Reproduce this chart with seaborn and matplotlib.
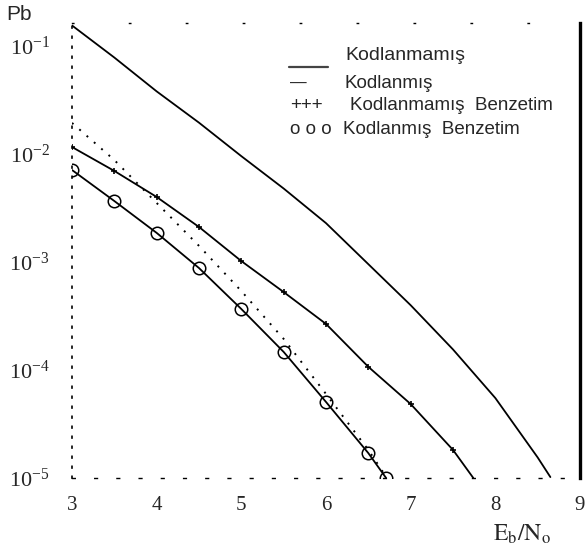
import numpy as np
import pandas as pd
import matplotlib
matplotlib.use('AGG')
import matplotlib.pyplot as plt
import seaborn as sns

# Eb/No (dB) and bit error probabilities
x_uncoded = [3, 3.5, 4, 4.5, 5, 5.5, 6, 6.5, 7, 7.5, 8, 8.5, 8.65]
pb_uncoded = [0.155, 0.0782, 0.038, 0.0195, 0.00955, 0.00479, 0.00229,
              9.55e-4, 3.98e-4, 1.55e-4, 5.5e-5, 1.55e-5, 1.02e-5]

x_coded = [3, 3.5, 4, 4.5, 5, 5.5, 6, 6.5, 7, 7.5, 7.74]
pb_coded = [0.0116, 0.00697, 0.0040, 0.00211, 0.00102, 5.27e-4, 2.67e-4,
            1.07e-4, 4.84e-5, 1.82e-5, 1.0e-5]

x_sim_dotted = [3, 3.5, 4, 4.5, 5, 5.5, 6, 6.5, 6.72]
pb_sim_dotted = [0.0194, 0.00879, 0.00352, 0.00141, 5.38e-4, 1.94e-4,
                 6.0e-5, 1.82e-5, 1.0e-5]

x_sim_circle = [3, 3.5, 4, 4.5, 5, 5.5, 6, 6.5, 6.71]
pb_sim_circle = [0.00711, 0.00367, 0.00186, 8.79e-4, 3.67e-4, 1.47e-4,
                 5.06e-5, 1.70e-5, 1.0e-5]

xticks = [3, 4, 5, 6, 7, 8, 9]
yticks = [1e-5, 1e-4, 1e-3, 1e-2, 1e-1]
ytick_labels = [r'$\mathdefault{10^{-5}}$', r'$\mathdefault{10^{-4}}$', r'$\mathdefault{10^{-3}}$',
                r'$\mathdefault{10^{-2}}$', r'$\mathdefault{10^{-1}}$']

legend_labels = ['Kodlanmamış', 'Kodlanmış', 'Kodlanmamış  Benzetim', 'Kodlanmış  Benzetim']
legend_keys = ['\u2014', '+++', 'o o o']

sns.set_theme(style='white')
plt.rcParams['font.family'] = ['Liberation Sans', 'DejaVu Sans']
plt.rcParams['mathtext.fontset'] = 'stix'

W, H = 587, 548
fig = plt.figure(figsize=(W / 100, H / 100), dpi=100)
ax = fig.add_axes([72 / W, 1 - 478 / H, (580 - 72) / W, (478 - 23) / H])

df_u = pd.DataFrame({'x': x_uncoded, 'pb': pb_uncoded})
df_c = pd.DataFrame({'x': x_coded, 'pb': pb_coded})
df_d = pd.DataFrame({'x': x_sim_dotted, 'pb': pb_sim_dotted})
df_o = pd.DataFrame({'x': x_sim_circle, 'pb': pb_sim_circle})

sns.lineplot(data=df_u, x='x', y='pb', ax=ax, color='black', lw=1.3)
# small tick-like markers on the coded curve (none at the clipped end point)
sns.lineplot(data=df_c, x='x', y='pb', ax=ax, color='black', lw=1.3,
             marker='+', markersize=4.5, markeredgewidth=1.2, markeredgecolor='black',
             markevery=list(range(len(x_coded) - 1)))
sns.lineplot(data=df_d, x='x', y='pb', ax=ax, color='black', lw=1.4,
             linestyle=(0, (1, 4)))
sns.lineplot(data=df_o, x='x', y='pb', ax=ax, color='black', lw=1.3,
             marker='o', markersize=9, markerfacecolor='none',
             markeredgecolor='black', markeredgewidth=1.1)

ax.set_yscale('log')
ax.set_xlim(3, 9)
ax.set_ylim(1e-5, 10 ** (-5 + 455 / 108))
ax.set_xticks(xticks)
ax.set_yticks(yticks)
ax.minorticks_off()
ax.set_xlabel('')
ax.set_ylabel('')
ax.tick_params(axis='y', length=0, pad=16)
ax.tick_params(axis='x', length=0, pad=13)
ax.set_xticklabels([str(t) for t in xticks], fontfamily='Liberation Serif', fontsize=15)
ax.set_yticklabels(ytick_labels, fontfamily='Liberation Serif', fontsize=16)

for s in ['left', 'bottom', 'top']:
    ax.spines[s].set_color('black')
ax.spines['left'].set_linestyle((0, (1, 5)))
ax.spines['left'].set_linewidth(1.2)
ax.spines['bottom'].set_linestyle((0, (2, 14)))
ax.spines['bottom'].set_linewidth(1.0)
ax.spines['top'].set_linestyle((0, (1, 40)))
ax.spines['top'].set_linewidth(1.0)
ax.spines['right'].set_color('black')
ax.spines['right'].set_linewidth(2.4)

# hand-drawn legend of the original
ax.plot([0.427, 0.504], [0.903, 0.903], transform=ax.transAxes, color='#444444', lw=1.6)
fig.text(345 / W, 1 - 55 / H, legend_labels[0], fontsize=14, va='center')
fig.text(290 / W, 1 - 83 / H, legend_keys[0], fontsize=12, va='center')
fig.text(345 / W, 1 - 83 / H, legend_labels[1], fontsize=13.5, va='center')
fig.text(290 / W, 1 - 106 / H, legend_keys[1], fontsize=13.5, va='center')
fig.text(350 / W, 1 - 106 / H, legend_labels[2], fontsize=13.5, va='center')
fig.text(290 / W, 1 - 130 / H, legend_keys[2], fontsize=13.5, va='center')
fig.text(343 / W, 1 - 130 / H, legend_labels[3], fontsize=13.5, va='center')

fig.text(6 / W, 1 - 14 / H, 'Pb', fontsize=15, va='center')
fig.text(522 / W, 1 - 534 / H, r'$\mathrm{E_b/N_o}$', fontsize=17, ha='center', va='center')

fig.savefig('out.png', dpi=100, facecolor='white')
